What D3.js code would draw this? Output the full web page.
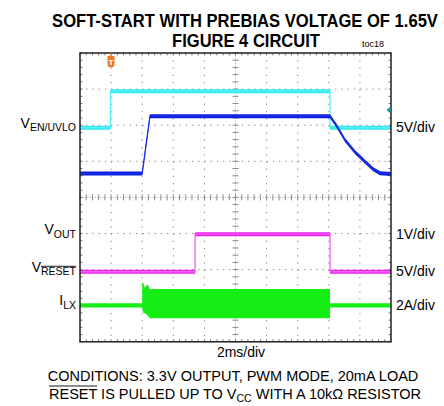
<!DOCTYPE html>
<html>
<head>
<meta charset="utf-8">
<script src="https://cdn.jsdelivr.net/npm/d3@7"></script>
<style>
  body { margin: 0; background: #fff; }
  svg { display: block; font-family: "Liberation Sans", Arial, sans-serif; }
</style>
</head>
<body>
<svg></svg>
<script>
// time in ms (2ms/div), levels in screen divisions (0 = centre line)
let enTime   = [0, 1.96, 1.96, 16.08, 16.08, 20];
let enLevel  = [1.93, 1.93, 2.94, 2.94, 1.93, 1.93];

let blueTime  = [0, 4.0, 4.5, 16.08, 16.51, 17.04, 17.68, 18.33, 18.86, 19.29, 20];
let blueLevel = [0.66, 0.66, 2.25, 2.25, 1.98, 1.59, 1.26, 0.99, 0.78, 0.67, 0.65];

let resetTime  = [0, 7.4, 7.4, 16.08, 16.08, 20];
let resetLevel = [-2.06, -2.06, -1.02, -1.02, -2.06, -2.06];

let lxTime   = [0, 4.0, 4.0, 4.08, 4.15, 4.3, 4.4, 4.5, 4.6, 16.08, 16.08, 20];
let lxTop    = [-2.93, -2.93, -2.35, -2.38, -2.5, -2.42, -2.45, -2.55, -2.54, -2.54, -2.93, -2.93];
let lxBottom = [-3.05, -3.05, -3.1, -3.2, -3.2, -3.25, -3.3, -3.35, -3.35, -3.35, -3.05, -3.05];

let leftLabels  = [["V", "EN/UVLO", 1.93], ["V", "OUT", -1.02], ["V", "RESET", -2.06], ["I", "LX", -2.99]];
let rightLabels = [["5V/div", 1.93], ["1V/div", -1.02], ["5V/div", -2.06], ["2A/div", -2.99]];

let triggerTime = 1.96;
let refMarkerLevel = 2.42;

let width = 444;
let height = 406;

let svg = d3.select('svg').attr('width', width).attr('height', height);

let xScale = d3.scaleLinear().domain([0, 20]).range([80, 391]);
let yScale = d3.scaleLinear().domain([-4, 4]).range([341.8, 53]);

let minorX = (xScale(2) - xScale(0)) / 5;
let minorY = (yScale(0) - yScale(1)) / 5;

// grid
let grid = svg.append('g');
d3.range(2, 20, 2).forEach(t => {
    grid.append('line')
        .attr('x1', xScale(t)).attr('x2', xScale(t))
        .attr('y1', yScale(4)).attr('y2', yScale(-4))
        .attr('stroke', t === 10 ? '#b0b0b0' : '#8c8c8c')
        .attr('stroke-width', 1)
        .attr('stroke-dasharray', t === 10 ? '1,1.5' : '1.4,' + (minorY - 1.4))
});
d3.range(-3, 4, 1).forEach(v => {
    grid.append('line')
        .attr('x1', xScale(0)).attr('x2', xScale(20))
        .attr('y1', yScale(v)).attr('y2', yScale(v))
        .attr('stroke', v === 0 ? '#b0b0b0' : '#8c8c8c')
        .attr('stroke-width', 1)
        .attr('stroke-dasharray', v === 0 ? '1,1.5' : '1.4,' + (minorX - 1.4))
});

// minor ticks on centre lines and frame
d3.range(0, 20.01, 0.4).forEach(t => {
    let x = xScale(t);
    grid.append('line').attr('x1', x).attr('x2', x)
        .attr('y1', yScale(0) - 3).attr('y2', yScale(0) + 3)
        .attr('stroke', '#888').attr('stroke-width', 1);
    grid.append('line').attr('x1', x).attr('x2', x)
        .attr('y1', yScale(4)).attr('y2', yScale(4) + 2.5)
        .attr('stroke', '#777').attr('stroke-width', 1);
    grid.append('line').attr('x1', x).attr('x2', x)
        .attr('y1', yScale(-4)).attr('y2', yScale(-4) - 2.5)
        .attr('stroke', '#777').attr('stroke-width', 1);
});
d3.range(-4, 4.01, 0.2).forEach(v => {
    let y = yScale(v);
    grid.append('line').attr('y1', y).attr('y2', y)
        .attr('x1', xScale(10) - 3).attr('x2', xScale(10) + 3)
        .attr('stroke', '#888').attr('stroke-width', 1);
    grid.append('line').attr('y1', y).attr('y2', y)
        .attr('x1', xScale(0)).attr('x2', xScale(0) + 2.5)
        .attr('stroke', '#777').attr('stroke-width', 1);
    grid.append('line').attr('y1', y).attr('y2', y)
        .attr('x1', xScale(20)).attr('x2', xScale(20) - 2.5)
        .attr('stroke', '#777').attr('stroke-width', 1);
});

// traces
let drawTrace = (times, levels, color, thin) => {
    let pts = times.map((t, i) => [t, levels[i]]);
    svg.append('path')
        .datum(pts)
        .attr('fill', color)
        .attr('d', d3.area()
            .x(d => xScale(d[0]))
            .y0(d => yScale(d[1]) + 2)
            .y1(d => yScale(d[1]) - 2));
    svg.append('path')
        .datum(pts)
        .attr('fill', 'none')
        .attr('stroke', thin)
        .attr('stroke-width', 1.3)
        .attr('d', d3.line().x(d => xScale(d[0])).y(d => yScale(d[1])));
};

drawTrace(enTime, enLevel, '#2eeaf0', '#55eef2');
drawTrace(blueTime, blueLevel, '#0a1ee0', '#1a2ee6');
drawTrace(resetTime, resetLevel, '#f01ef0', '#f060f0');

let lxPts = lxTime.map((t, i) => [t, lxTop[i], lxBottom[i]]);
svg.append('path')
    .datum(lxPts)
    .attr('fill', '#14ee14')
    .attr('d', d3.area()
        .x(d => xScale(d[0]))
        .y0(d => yScale(d[2]))
        .y1(d => yScale(d[1])));

// frame
svg.append('rect')
    .attr('x', xScale(0)).attr('y', yScale(4))
    .attr('width', xScale(20) - xScale(0))
    .attr('height', yScale(-4) - yScale(4))
    .attr('fill', 'none')
    .attr('stroke', '#222')
    .attr('stroke-width', 1.5);

// trigger marker
let tx = xScale(triggerTime) + 0.5;
let trig = svg.append('g').attr('transform', 'translate(' + tx + ',' + yScale(4) + ')');
trig.append('line').attr('x1', 0).attr('x2', 0).attr('y1', 0).attr('y2', 3)
    .attr('stroke', '#f07a22').attr('stroke-width', 1.5);
trig.append('path')
    .attr('d', 'M-3.5,3 L3.5,3 L3.5,11 Q3.5,14.5 0,14.5 Q-3.5,14.5 -3.5,11 Z')
    .attr('fill', '#f07a22');
trig.append('text').attr('x', 0).attr('y', 11.5)
    .attr('text-anchor', 'middle')
    .attr('font-size', 8).attr('font-weight', 'bold')
    .attr('fill', '#fff').text('T');

// channel reference marker
let my = yScale(refMarkerLevel);
svg.append('path')
    .attr('d', 'M' + (xScale(20) - 4.5) + ',' + my + ' L' + (xScale(20) - 0.5) + ',' + (my - 3.5) + ' L' + (xScale(20) - 0.5) + ',' + (my + 3.5) + ' Z')
    .attr('fill', '#14a0a0');

// left labels
leftLabels.forEach(l => {
    let sub = svg.append('text')
        .attr('x', 76).attr('y', yScale(l[2]) + 3.5)
        .attr('text-anchor', 'end')
        .attr('font-size', 10.5)
        .text(l[1]);
    let subW = sub.node().getComputedTextLength();
    svg.append('text')
        .attr('x', 76 - subW).attr('y', yScale(l[2]) + 0)
        .attr('text-anchor', 'end')
        .attr('font-size', 14)
        .text(l[0]);
    if (l[1] === 'RESET') {
        svg.append('line')
            .attr('x1', 76 - subW).attr('x2', 76)
            .attr('y1', yScale(l[2]) - 5.5).attr('y2', yScale(l[2]) - 5.5)
            .attr('stroke', '#000').attr('stroke-width', 0.9);
    }
});

// right labels
rightLabels.forEach(l => {
    svg.append('text')
        .attr('x', 396).attr('y', yScale(l[1]) + 4.5)
        .attr('font-size', 14)
        .text(l[0]);
});

// titles, squeezed horizontally like the original condensed face
let squeezed = (str, cx, y, w) => {
    let t = svg.append('text')
        .attr('text-anchor', 'middle').attr('font-size', 18).attr('font-weight', 'bold')
        .text(str);
    let nat = t.node().getComputedTextLength();
    t.attr('transform', 'translate(' + cx + ',' + y + ') scale(' + (w / nat) + ',1)');
};
squeezed('SOFT-START WITH PREBIAS VOLTAGE OF 1.65V', 245, 26.5, 386);
squeezed('FIGURE 4 CIRCUIT', 246, 46.5, 148);

svg.append('text').attr('x', 362).attr('y', 47)
    .attr('font-size', 9)
    .text('toc18');

svg.append('text').attr('x', 241).attr('y', 357)
    .attr('text-anchor', 'middle').attr('font-size', 14)
    .text('2ms/div');

svg.append('text').attr('x', 233).attr('y', 380.7)
    .attr('text-anchor', 'middle').attr('font-size', 14.5)
    .text('CONDITIONS: 3.3V OUTPUT, PWM MODE, 20mA LOAD');

let cond2 = svg.append('text').attr('x', 235).attr('y', 399)
    .attr('text-anchor', 'middle').attr('font-size', 14.5);
cond2.append('tspan').text('RESET IS PULLED UP TO V');
cond2.append('tspan').attr('font-size', 10.5).attr('dy', 3).text('CC');
cond2.append('tspan').attr('dy', -3).text(' WITH A 10k\u03A9 RESISTOR');
let n2 = cond2.node();
svg.append('line')
    .attr('x1', n2.getStartPositionOfChar(0).x)
    .attr('x2', n2.getEndPositionOfChar(4).x)
    .attr('y1', 386).attr('y2', 386)
    .attr('stroke', '#000').attr('stroke-width', 0.9);
</script>
</body>
</html>
